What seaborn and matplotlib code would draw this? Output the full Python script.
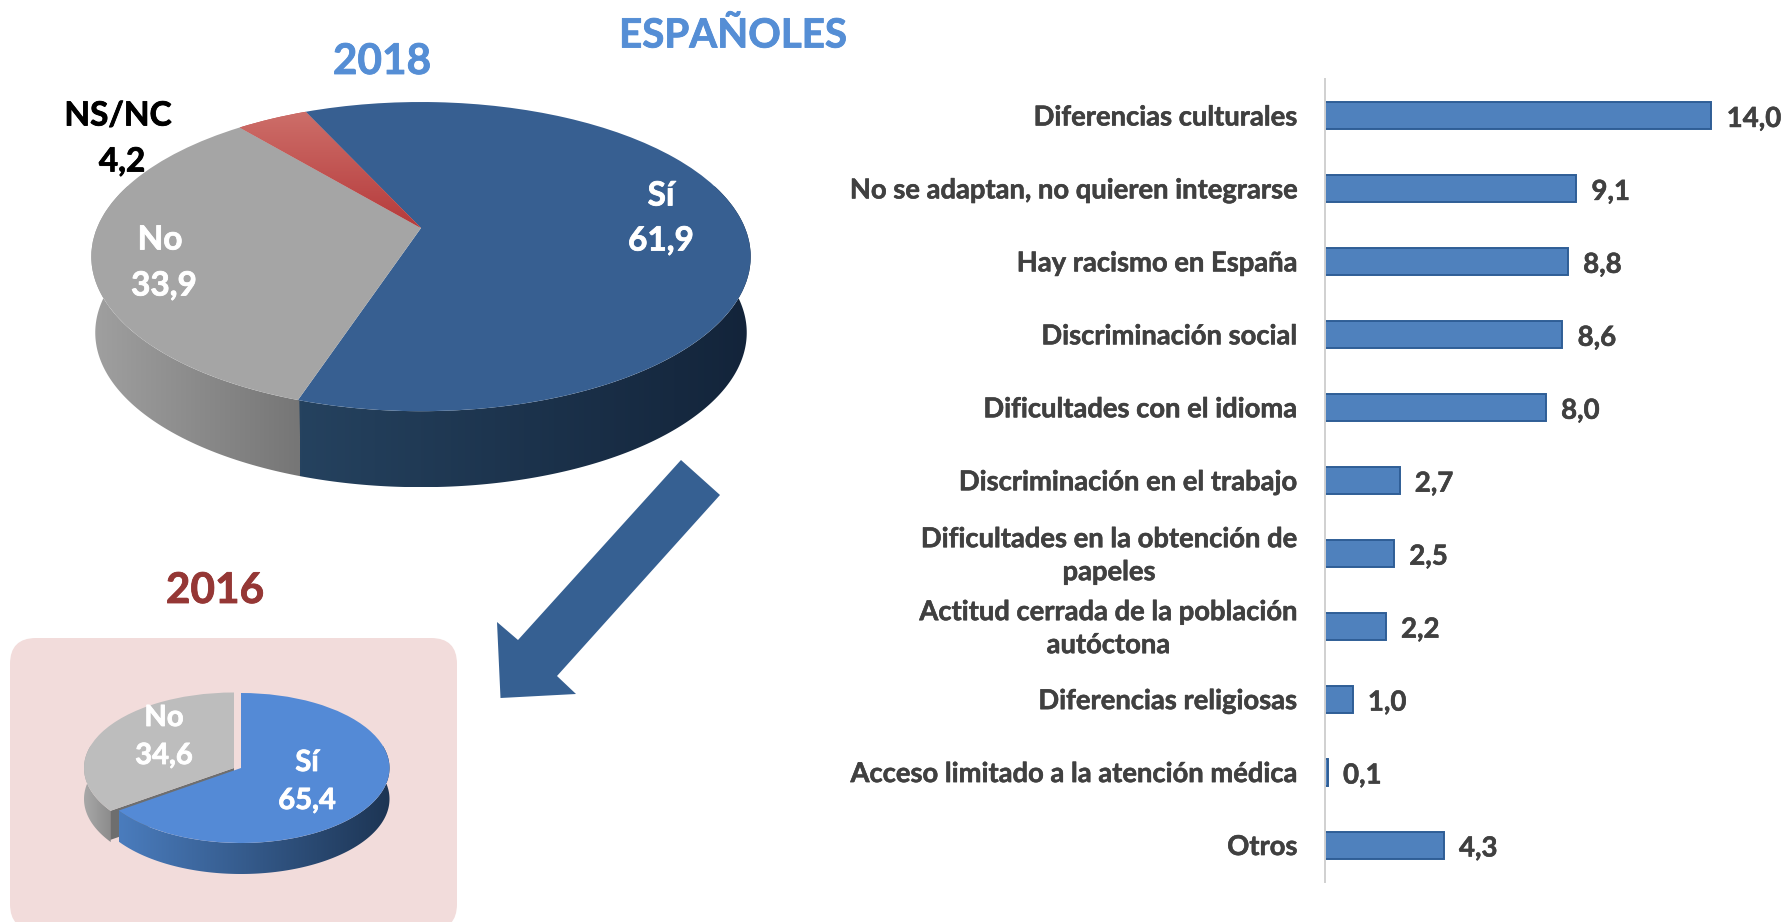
import numpy as np
import pandas as pd
import matplotlib
matplotlib.use("Agg")
import matplotlib.pyplot as plt
import matplotlib.transforms as mtrans
import matplotlib.patheffects as pe
from matplotlib.colors import LinearSegmentedColormap
from matplotlib.patches import FancyBboxPatch, Polygon
import seaborn as sns

# ---------- data ----------
categories = ["Diferencias culturales", "No se adaptan, no quieren integrarse",
              "Hay racismo en España", "Discriminación social",
              "Dificultades con el idioma", "Discriminación en el trabajo",
              "Dificultades en la obtención de\npapeles",
              "Actitud cerrada de la población\nautóctona",
              "Diferencias religiosas", "Acceso limitado a la atención médica", "Otros"]
values = [14.0, 9.1, 8.8, 8.6, 8.0, 2.7, 2.5, 2.2, 1.0, 0.1, 4.3]
pie18_labels = ["Sí", "No", "NS/NC"]
pie18_values = [61.9, 33.9, 4.2]
pie16_labels = ["Sí", "No"]
pie16_values = [65.4, 34.6]

W, H = 1785, 922
sns.set_theme(style="white")
plt.rcParams["font.family"] = ["Lato", "DejaVu Sans"]
plt.rcParams["font.weight"] = "bold"

fig = plt.figure(figsize=(W / 100, H / 100), dpi=100, facecolor="white")
canvas = fig.add_axes([0, 0, 1, 1])
canvas.set_axis_off()


def heavy(color, lw=0.6):
    return [pe.withStroke(linewidth=lw, foreground=color)]


class Tilt(mtrans.Transform):
    """Perspective view of the unit disc, in pixel coordinates."""
    input_dims = output_dims = 2
    is_separable = False
    has_inverse = False

    def __init__(self, cx, cy, a, b, k):
        super().__init__()
        self.p = (cx, cy, a, b, k)

    def transform_non_affine(self, xy):
        xy = np.asarray(xy, dtype=float)
        cx, cy, a, b, k = self.p
        w = 1 + k * xy[:, 1]
        return np.column_stack([cx + a * xy[:, 0] / w, cy - b * xy[:, 1] / w])


def gradient(xmin, xmax, ymin, ymax, colors, clip, z, vertical=False):
    cmap = LinearSegmentedColormap.from_list("g", colors)
    ramp = np.linspace(0, 1, 128)
    ramp = ramp.reshape(-1, 1) if vertical else ramp.reshape(1, -1)
    im = canvas.imshow(ramp, cmap=cmap, aspect="auto", interpolation="bilinear",
                       extent=(xmin, xmax, ymax, ymin), zorder=z, origin="upper")
    im.set_clip_path(clip)
    return im


def tilted_pie(vals, start, specs, depth, shrink, z):
    wedges, _ = canvas.pie(vals, startangle=start, counterclock=False,
                           colors=[s["top"] for s in specs],
                           wedgeprops=dict(linewidth=0))
    for wedge, s in zip(wedges, specs):
        proj = Tilt(*s["geom"])
        wedge.set_transform(proj + canvas.transData)
        wedge.set_zorder(z + 2)
        if not s.get("wall"):
            continue
        th = np.radians(np.arange(wedge.theta1, wedge.theta2 + 0.25, 0.25))
        top = proj.transform_non_affine(np.column_stack([np.cos(th), np.sin(th)]))
        cx = s["geom"][0]
        low = np.column_stack([cx + (top[:, 0] - cx) * shrink, top[:, 1] + depth])
        vis = np.sin(th) < 0.3
        top, low = top[vis], low[vis]
        poly = Polygon(np.vstack([top, low[::-1]]), closed=True, fc="none", ec="none",
                       transform=canvas.transData)
        gradient(top[:, 0].min(), top[:, 0].max(), top[:, 1].min(), low[:, 1].max(),
                 s["wall"], poly, s.get("wall_z", z))
    return wedges


# ---------- pink panel ----------
canvas.add_patch(FancyBboxPatch((10 + 26, 638 + 26), 447 - 52, 292 - 52,
                                boxstyle="round,pad=26,rounding_size=26",
                                fc="#f2dcdb", ec="none", zorder=0))

# ---------- 2018 pie ----------
g18 = (421, 228, 324, 149.3, 0.185)
w18 = tilted_pie(pie18_values, 114.6,
                 [dict(top="#375f91", geom=g18, wall=("#25425f", "#13243a")),
                  dict(top="#a5a5a5", geom=g18, wall=("#a0a0a0", "#767676")),
                  dict(top="#c0504d", geom=g18)],
                 76, 0.988, 2)
# soft shading on the small red slice
gradient(230, 430, 112, 232, ("#cd6e69", "#b5393a"), w18[2], 5, vertical=True)

# ---------- 2016 pie ----------
gB = (241, 768, 148.5, 75, 0)
gG = (234, 768, 150, 75.5, 0)
w16 = tilted_pie(pie16_values, 90,
                 [dict(top="#548ad6", geom=gB, wall=("#4a7cbd", "#1d3554"), wall_z=7),
                  dict(top="#bdbdbd", geom=gG, wall=("#a8a8a8", "#8c8c8c"))],
                 31, 1.0, 6)
# cut face of the pulled-out grey slice, seen through the gap beside the blue slice
ang = np.radians(w16[1].theta2)
cut = Tilt(*gG).transform_non_affine(np.array([[0, 0], [np.cos(ang), np.sin(ang)]]))
canvas.fill([cut[0, 0], cut[1, 0], cut[1, 0], cut[0, 0]],
            [cut[0, 1], cut[1, 1], cut[1, 1] + 29, cut[0, 1] + 29],
            color="#6e6e6e", lw=0, zorder=6.5)
w16[0].set_zorder(9)

# ---------- arrow ----------
canvas.fill([681, 720, 557, 576, 500.5, 497, 518],
            [460, 495, 676, 694, 698, 622, 640], color="#366092", lw=0, zorder=3)

canvas.set_xlim(0, W)
canvas.set_ylim(H, 0)
canvas.set_aspect("auto")
canvas.set_frame_on(False)
canvas.set_xticks([])
canvas.set_yticks([])


# ---------- texts ----------
def T(x, y, s, size, color="white"):
    canvas.text(x, y, s, fontsize=size, color=color, ha="center", va="center",
                fontweight="bold", zorder=20, path_effects=heavy(color))


T(733, 36, "ESPAÑOLES", 29, "#558ed5")
T(382, 62, "2018", 30.5, "#558ed5")
T(215, 591, "2016", 30.5, "#953735")
T(118, 116, pie18_labels[2], 24, "black")
T(122, 162, "4,2", 24, "black")
T(661, 196, pie18_labels[0], 24)
T(661, 241, "61,9", 24)
T(160, 240, pie18_labels[1], 24)
T(164, 286, "33,9", 24)
T(307, 763, pie16_labels[0], 21)
T(307, 801, "65,4", 21)
T(164, 718, pie16_labels[1], 21)
T(164, 756, "34,6", 21)

# ---------- bars ----------
px_per_unit = 27.6
left, right = 1325, W
top, bottom = 79, 881.5
ax = fig.add_axes([left / W, 1 - bottom / H, (right - left) / W, (bottom - top) / H])
ax.patch.set_alpha(0)
df = pd.DataFrame({"cat": categories, "val": values})
sns.barplot(data=df, y="cat", x="val", orient="h", ax=ax, color="#4f81bd", saturation=1,
            width=0.37, edgecolor="#2f5e96", linewidth=1.4)
ax.set_xlim(0, (right - left) / px_per_unit)
ax.set_ylim(10.5, -0.5)
ax.set_xlabel("")
ax.set_ylabel("")
ax.set_xticks([])
for sp in ("top", "right", "bottom"):
    ax.spines[sp].set_visible(False)
ax.spines["left"].set_color("#d0d0d0")
ax.spines["left"].set_linewidth(1.4)
ax.tick_params(axis="y", length=0, pad=20)
lift = mtrans.ScaledTranslation(0, 4 / 100, fig.dpi_scale_trans)
for lab in ax.get_yticklabels():
    lab.set_fontsize(19.7)
    lab.set_fontweight("bold")
    lab.set_color("#404040")
    lab.set_multialignment("center")
    lab.set_linespacing(1.45)
    lab.set_path_effects(heavy("#404040", 0.4))
    if "\n" in lab.get_text():
        lab.set_transform(lab.get_transform() + lift)
anns = ax.bar_label(ax.containers[0], labels=[f"{v:.1f}".replace(".", ",") for v in values],
                    padding=11, fontsize=19.9, fontweight="bold", color="#404040")
for a in anns:
    a.set_path_effects(heavy("#404040", 0.4))
    a.xyann = (a.xyann[0], a.xyann[1] - 2.5)

fig.savefig("out.png", dpi=100, facecolor="white")
